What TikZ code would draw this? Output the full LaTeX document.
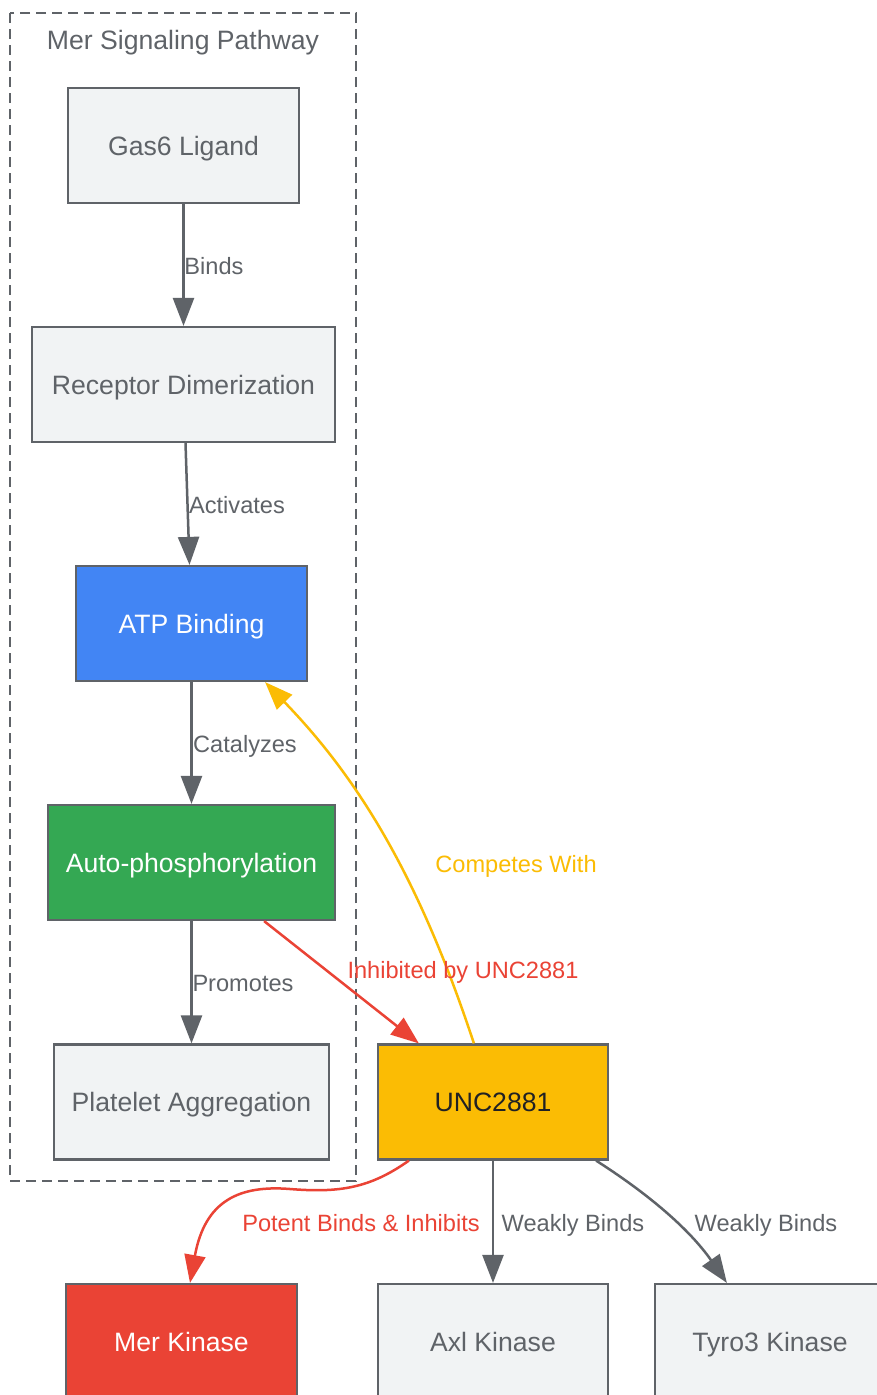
\documentclass[tikz,border=0pt]{standalone}
\usepackage{fontspec}
\setmainfont{Liberation Sans}
\usetikzlibrary{arrows.meta}
\definecolor{edgegray}{HTML}{5F6368}
\definecolor{boxfill}{HTML}{F1F3F4}
\definecolor{gblue}{HTML}{4285F4}
\definecolor{ggreen}{HTML}{34A853}
\definecolor{gred}{HTML}{EA4335}
\definecolor{gyellow}{HTML}{FBBC04}
\definecolor{darktext}{HTML}{202124}
\tikzset{
  box/.style={draw=edgegray, line width=2.2pt, fill=boxfill, text=edgegray, minimum height=115pt, inner sep=0pt, text depth=0pt, font=\fontsize{26.6}{32}\selectfont},
  lbl/.style={text=edgegray, inner sep=0pt, text depth=0pt, font=\fontsize{23.6}{28}\selectfont},
  conn/.style={draw=edgegray, line width=2.5pt, -{Triangle[length=28pt,width=21pt]}},
  redconn/.style={conn, draw=gred, fill=gred},
  yelconn/.style={conn, draw=gyellow, fill=gyellow},
  cluster/.style={draw=edgegray, line width=2.2pt, dash pattern=on 10pt off 6pt},
}
\begin{document}
\begin{tikzpicture}[x=1pt,y=-1pt]
\useasboundingbox (0,0) rectangle (876,1395);
\path[fill=white] (0,0) rectangle (876,1395);
% cluster
\draw[cluster] (10,13) rectangle (356,1181);
\node[lbl, font=\fontsize{26.6}{32}\selectfont] (ctitle) at (183,40) {Mer Signaling Pathway};
% nodes
\node[box, minimum width=231pt] (gas) at (183.5,145.5) {Gas6 Ligand};
\node[box, minimum width=303pt] (rec) at (183.5,384.5) {Receptor Dimerization};
\node[box, minimum width=231pt, fill=gblue, text=white] (atp) at (191.5,623.5) {ATP Binding};
\node[box, minimum width=287pt, fill=ggreen, text=white] (auto) at (191.5,862.5) {Auto-phosphorylation};
\node[box, minimum width=275pt] (plat) at (191.5,1102) {Platelet Aggregation};
\node[box, minimum width=230pt, fill=gyellow, text=darktext] (unc) at (493,1102) {UNC2881};
\node[box, minimum width=231pt, fill=gred, text=white] (mer) at (181.5,1341.5) {Mer Kinase};
\node[box, minimum width=230pt] (axl) at (493,1341.5) {Axl Kinase};
\node[box, minimum width=230pt] (tyro) at (770,1341.5) {Tyro3 Kinase};
% connectors
\draw[conn] (gas.south) -- (rec.north);
\draw[conn] ([xshift=2pt]rec.south) -- ([xshift=-2pt]atp.north);
\draw[conn] (atp.south) -- (auto.north);
\draw[conn] (auto.south) -- (plat.north);
\draw[redconn] ([xshift=-72pt]auto.south east) -- ([xshift=42pt]unc.north west);
\draw[yelconn, fill=none] ([xshift=97pt]unc.north west) .. controls (420,880) and (360,780) .. ([xshift=-43pt]atp.south east);
\draw[redconn, fill=none] ([xshift=32pt]unc.south west) .. controls (370,1188) and (340,1193) .. (290,1189) .. controls (240,1185) and (205,1200) .. ([xshift=8.5pt]mer.north);
\draw[conn] (unc.south) -- (axl.north);
\draw[conn] ([xshift=-13pt]unc.south east) .. controls (650,1195) and (690,1230) .. ([xshift=73pt]tyro.north west);
% labels
\node[lbl] (l1) at (214,266) {Binds};
\node[lbl] (l2) at (237,505) {Activates};
\node[lbl] (l3) at (245,744) {Catalyzes};
\node[lbl] (l4) at (243,983) {Promotes};
\node[lbl, text=gred] (l5) at (463,970) {Inhibited by UNC2881};
\node[lbl, text=gyellow] (l6) at (516,864) {Competes With};
\node[lbl, text=gred] (l7) at (361,1223) {Potent Binds \& Inhibits};
\node[lbl] (l8) at (573,1223) {Weakly Binds};
\node[lbl] (l9) at (766,1223) {Weakly Binds};
\end{tikzpicture}
\end{document}
